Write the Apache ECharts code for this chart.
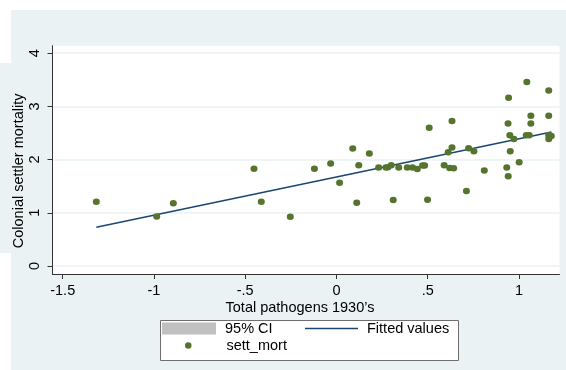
<!DOCTYPE html>
<html>
<head>
<meta charset="utf-8">
<script src="https://cdn.jsdelivr.net/npm/echarts@6/dist/echarts.min.js"></script>
<style>
  html, body { margin: 0; padding: 0; background: #ffffff; }
  #chart { width: 566px; height: 370px; }
</style>
</head>
<body>
<div id="chart"></div>
<script>
// Total pathogens (1930's) vs. colonial settler mortality, one point per country
const pathogens = [
  -1.316, -0.985, -0.894, -0.452, -0.412, -0.253, -0.121, -0.032, 0.017, 0.089,
  0.111, 0.122, 0.180, 0.231, 0.271, 0.282, 0.300, 0.311, 0.341, 0.388,
  0.417, 0.443, 0.472, 0.483, 0.499, 0.508, 0.590, 0.612, 0.620, 0.633,
  0.633, 0.642, 0.712, 0.724, 0.753, 0.810, 0.933, 0.941, 0.940, 0.943,
  0.950, 0.952, 0.972, 1.001, 1.040, 1.056, 1.043, 1.065, 1.065, 1.163,
  1.163, 1.163, 1.163, 1.177
];
const settMort = [
  1.206, 0.931, 1.180, 1.830, 1.210, 0.927, 1.830, 1.928, 1.566, 2.206,
  1.188, 1.892, 2.112, 1.849, 1.849, 1.855, 1.892, 1.241, 1.849, 1.849,
  1.849, 1.823, 1.890, 1.890, 1.245, 2.600, 1.892, 2.140, 1.842, 2.226,
  2.726, 1.836, 1.411, 2.212, 2.155, 1.793, 1.852, 1.686, 2.676, 3.164,
  2.455, 2.158, 2.385, 1.948, 2.455, 2.455, 3.460, 2.826, 2.676, 3.298,
  2.826, 2.455, 2.385, 2.445
];

// Linear fit endpoints
const fitX = [-1.316, 1.178];
const fitY = [0.73, 2.52];

// Axis ticks
const xTicks = [-1.5, -1, -0.5, 0, 0.5, 1];
const xTickLabels = ['-1.5', '-1', '-.5', '0', '.5', '1'];
const yTicks = [0, 1, 2, 3, 4];
const yTickLabels = ['0', '1', '2', '3', '4'];

const FONT = '"Liberation Sans", Arial, sans-serif';
const FS = 14.5;
const BG = '#EAF2F3';
const NAVY = '#1A476F';
const GREEN = '#55752F';
const CI_GRAY = '#C0C0C0';

const scatterData = pathogens.map((x, i) => [x, settMort[i]]);
const fitData = fitX.map((x, i) => [x, fitY[i]]);

const chart = echarts.init(document.getElementById('chart'), null, { renderer: 'canvas' });

chart.setOption({
  animation: false,
  backgroundColor: '#ffffff',
  textStyle: { fontFamily: FONT },
  graphic: [
    // outer graph region
    { type: 'rect', z: -10, silent: true, shape: { x: 11, y: 10, width: 555, height: 360 }, style: { fill: BG } },
    { type: 'rect', z: -10, silent: true, shape: { x: 0, y: 63, width: 11, height: 190 }, style: { fill: BG } },
    // legend frame
    { type: 'rect', z: 1, silent: true, shape: { x: 160.5, y: 320.5, width: 298, height: 40 },
      style: { fill: '#ffffff', stroke: '#6e6e6e', lineWidth: 1 } }
  ],
  grid: {
    left: 52.5, right: 6.5, top: 45.7, bottom: 96,
    outerBoundsMode: 'none',
    containLabel: false,
    show: true, backgroundColor: '#ffffff', borderWidth: 0
  },
  xAxis: {
    type: 'value',
    min: -1.556, max: 1.222,
    name: "Total pathogens 1930\u2019s",
    nameLocation: 'middle',
    nameGap: 26,
    nameMoveOverlap: false,
    nameTextStyle: { fontSize: FS, color: '#000', fontFamily: FONT, padding: [0, 12, 0, 0] },
    axisLine: { show: true, onZero: false, lineStyle: { color: '#333', width: 1 } },
    axisTick: { show: true, length: 5, customValues: xTicks, lineStyle: { color: '#333' } },
    axisLabel: {
      customValues: xTicks, margin: 9, fontSize: FS, color: '#000', fontFamily: FONT,
      formatter: v => { const i = xTicks.findIndex(t => Math.abs(t - v) < 1e-9); return i >= 0 ? xTickLabels[i] : ''; }
    },
    splitLine: { show: false }
  },
  yAxis: {
    type: 'value',
    min: -0.15, max: 4.14,
    name: 'Colonial settler mortality',
    nameLocation: 'middle',
    nameGap: 26,
    nameMoveOverlap: false,
    nameTextStyle: { fontSize: FS, color: '#000', fontFamily: FONT, padding: [0, 22, 0, 0] },
    axisLine: { show: true, onZero: false, lineStyle: { color: '#333', width: 1 } },
    axisTick: { show: true, length: 5, customValues: yTicks, lineStyle: { color: '#333' } },
    axisLabel: {
      customValues: yTicks, margin: 10, rotate: 90, fontSize: FS, color: '#000', fontFamily: FONT,
      formatter: v => { const i = yTicks.findIndex(t => Math.abs(t - v) < 1e-9); return i >= 0 ? yTickLabels[i] : ''; }
    },
    splitLine: { show: true, lineStyle: { color: BG, width: 1.5 } }
  },
  legend: [
    {
      data: [{ name: '95% CI', icon: 'rect' }],
      left: 162, top: 321, itemWidth: 54, itemHeight: 12, itemGap: 0, padding: 0,
      textStyle: { fontSize: FS, color: '#000', fontFamily: FONT, padding: [0, 0, 0, 4] },
      selectedMode: false, z: 5
    },
    {
      data: [{ name: 'Fitted values', icon: 'rect' }],
      left: 305, top: 321, itemWidth: 53, itemHeight: 1.5, itemGap: 0, padding: 0,
      textStyle: { fontSize: FS, color: '#000', fontFamily: FONT, padding: [0, 0, 0, 4] },
      selectedMode: false, z: 5
    },
    {
      data: [{ name: 'sett_mort', icon: 'circle' }],
      left: 185, top: 338, itemWidth: 6.5, itemHeight: 6.5, itemGap: 0, padding: 0,
      textStyle: { fontSize: FS, color: '#000', fontFamily: FONT, padding: [0, 0, 0, 30] },
      selectedMode: false, z: 5
    }
  ],
  series: [
    {
      name: '95% CI',
      type: 'line',
      data: [],
      itemStyle: { color: CI_GRAY },
      lineStyle: { width: 0 },
      areaStyle: { color: CI_GRAY }
    },
    {
      name: 'Fitted values',
      type: 'line',
      data: fitData,
      showSymbol: false,
      symbol: 'none',
      itemStyle: { color: NAVY },
      lineStyle: { color: NAVY, width: 1.5 },
      z: 2
    },
    {
      name: 'sett_mort',
      type: 'scatter',
      data: scatterData,
      symbol: 'circle',
      symbolSize: [7, 6.5],
      itemStyle: { color: GREEN, opacity: 1 },
      z: 3
    }
  ]
});
</script>
</body>
</html>
